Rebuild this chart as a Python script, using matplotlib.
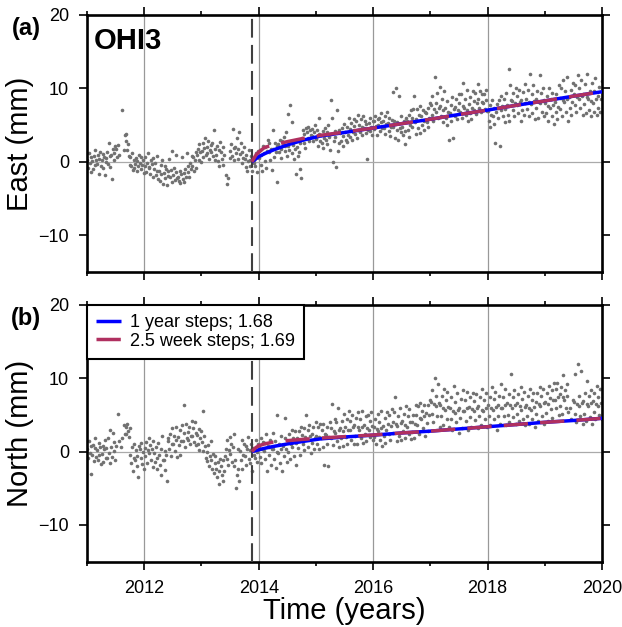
import numpy as np
import matplotlib
matplotlib.use('Agg')
import matplotlib.pyplot as plt
from matplotlib.ticker import MultipleLocator

plt.rcParams['font.family'] = ['Liberation Sans', 'DejaVu Sans']

nan = float('nan')

# Daily-ish positions, 6 samples per month (mm)
years = [2011, 2012, 2013, 2014, 2015, 2016, 2017, 2018, 2019]

east_2011 = [0.3, -0.8, 1.2, -0.2, 0.6, -1.4, 0.1, -1.0, 0.8, 1.6, -0.4, 0.2,
             -0.3, 0.9, -1.6, 0.4, 1.3, -0.6, 0.2, 1.1, -0.9, 0.6, -1.8, 0.0,
             0.5, 1.4, -0.3, 2.6, 0.8, -0.7, 0.9, -2.4, 1.7, 0.3, 1.2, 2.2,
             1.8, 0.6, 2.3, nan, 1.0, nan, nan, 7.0, nan, nan, 1.6, 3.6,
             3.8, 2.9, 1.6, 2.4, 0.8, -0.4, 0.6, -0.5, 1.2, -1.1, 0.2, -0.8,
             -0.3, 0.5, -1.3, 0.1, -0.6, 1.0, -0.2, 0.7, -1.0, -0.4, 0.3, -1.5]
east_2012 = [-0.5, 0.6, -1.4, -0.1, 1.2, -0.9, -0.7, -1.6, 0.2, -0.3, -2.1, 0.5,
             -1.0, -0.2, -1.8, 0.8, -1.3, -2.4, -1.2, -2.6, -0.4, -1.7, 0.3, -3.0,
             -1.5, -0.6, -2.2, -1.0, -3.2, -1.9, -1.3, 0.4, -2.0, -1.1, -2.7, 1.5,
             -1.8, -0.9, -2.5, -1.4, 0.9, -2.2, -2.0, -2.6, -1.2, -2.9, -1.7, 0.7,
             -2.3, -1.5, -2.8, -1.0, -2.0, 1.2, -1.4, -0.6, -2.1, -0.2, -1.0, 0.8,
             -0.5, 0.6, -1.2, 0.3, 1.3, -0.8, 1.0, 1.8, 0.3, 2.4, 1.3, 0.0]
east_2013 = [1.5, 2.5, 0.6, 1.9, 3.3, 1.0, 2.0, 1.2, 2.8, 0.4, 1.6, 2.3,
             1.4, 2.6, 0.8, 4.3, 1.8, 0.2, 1.0, 2.1, 0.1, 1.6, -0.6, 2.7,
             1.3, 0.4, 2.0, -0.4, 1.0, nan, -1.8, nan, -3.0, -2.2, nan, 0.5,
             1.5, 2.4, 0.8, 4.5, 1.9, 0.2, 2.0, 1.2, 3.2, 1.7, 0.4, 4.0,
             1.1, 2.5, -0.2, 1.4, 0.5, 2.0, 0.4, -0.7, 1.0, -1.3, 0.1, 1.6,
             0.2, -0.5, 0.8, -1.2, 0.3, -0.2, 0.3, -0.6, 1.2, -1.4, 0.6, 1.5]
east_2014 = [0.5, 1.6, -0.4, 1.0, -1.3, 2.2, 1.2, 0.1, 2.0, -0.8, 1.5, 3.0,
             1.4, 2.5, 0.3, 1.8, -1.1, 4.3, 1.8, 0.7, 2.6, 1.3, -2.7, 2.1,
             2.4, 1.3, 3.0, 1.8, 0.5, 2.9, 2.6, 3.4, 1.5, 2.1, 4.0, 0.8,
             2.2, 6.5, 1.6, 7.8, 2.8, 5.4, 1.2, 2.3, 0.4, 1.8, -1.6, 2.8,
             2.0, 0.8, 1.4, -1.0, 2.6, -2.2, 3.2, 4.3, 2.6, 3.8, 1.9, 4.6,
             4.0, 3.2, 4.8, 2.8, 4.4, 3.6, 3.5, 4.5, 2.9, 4.1, 5.0, 3.1]
east_2015 = [3.3, 4.3, 2.2, 3.8, 6.0, 2.8, 3.6, 2.6, 4.2, 1.9, 3.2, 4.6,
             3.0, 4.0, 2.4, 5.0, 3.4, 1.6, 3.8, 8.4, 6.0, 0.0, 2.8, 4.2,
             3.4, -0.7, 7.0, 1.5, 4.4, 2.6, 3.9, 2.9, 4.6, 2.2, 3.5, 5.1,
             4.1, 3.0, 4.8, 2.7, 3.6, 6.0, 4.5, 3.4, 5.3, 3.0, 4.0, 5.8,
             4.9, 3.8, 5.6, 3.3, 4.4, 6.4, 5.0, 4.0, 5.8, 3.6, 4.7, 6.2,
             4.6, 5.6, 3.9, 5.2, 0.4, 4.3, 5.3, 4.2, 6.0, 4.7, 3.6, 5.6]
east_2016 = [5.5, 4.5, 6.3, 4.9, 3.7, 5.8, 5.0, 6.0, 4.2, 5.4, 6.6, 4.6,
             5.6, 4.6, 6.2, 3.8, 5.2, 6.8, 5.3, 4.2, 6.0, 3.5, 4.8, 5.7,
             4.8, 9.5, 5.6, 3.2, 10.0, 4.4, 5.4, 3.0, 9.0, 4.6, 6.2, 4.0,
             4.8, 3.6, 5.6, 2.4, 4.2, 6.0, 5.6, 4.3, 6.4, 3.4, 5.0, 7.0,
             6.0, 4.8, 7.2, 9.0, 5.4, 3.8, 5.8, 7.2, 4.6, 6.4, 3.9, 7.6,
             6.2, 5.0, 7.0, 4.3, 5.6, 6.8, 6.6, 5.4, 7.4, 4.8, 6.0, 8.0]
east_2017 = [7.8, 6.4, 9.0, 5.6, 7.2, 11.5, 8.0, 6.8, 9.4, 6.0, 7.4, 10.2,
             7.6, 6.2, 8.6, 5.4, 7.0, 9.6, 7.3, 6.0, 8.3, 5.0, 6.8, 3.0,
             6.6, 7.8, 5.6, 8.8, 3.2, 7.2, 7.5, 6.3, 8.5, 5.8, 7.0, 9.2,
             8.0, 6.8, 9.3, 6.0, 7.6, 10.8, 7.4, 8.6, 6.4, 9.8, 7.0, 5.6,
             7.9, 6.7, 8.8, 5.8, 7.4, 9.6, 8.3, 7.0, 9.4, 6.5, 8.0, 10.6,
             8.6, 7.4, 9.6, 6.8, 8.2, 9.2, 8.0, 9.2, 7.2, 9.8, 8.4, 6.9]
east_2018 = [6.9, 5.6, 7.8, 4.8, 6.4, 8.4, 6.3, 7.4, 5.2, 2.5, 6.8, 7.9,
             7.3, 6.0, 8.4, 2.2, 7.0, 8.9, 7.6, 6.2, 8.6, 5.4, 7.2, 9.4,
             7.8, 6.4, 12.7, 5.6, 10.4, 8.4, 8.3, 7.0, 9.4, 6.2, 8.0, 10.0,
             7.7, 9.0, 6.6, 9.8, 8.2, 5.6, 8.4, 7.1, 9.5, 6.4, 8.0, 10.6,
             8.5, 7.2, 9.8, 6.3, 8.1, 12.0, 7.9, 9.2, 6.6, 10.4, 8.3, 5.8,
             8.6, 7.3, 9.6, 6.0, 8.2, 11.8, 8.0, 9.4, 6.8, 10.1, 8.4, 6.2]
east_2019 = [8.0, 6.6, 9.0, 5.6, 7.6, 10.0, 7.4, 8.6, 6.2, 9.4, 7.8, 5.2,
             8.1, 6.8, 9.2, 5.8, 7.5, 10.4, 8.7, 7.2, 10.0, 6.2, 8.4, 11.2,
             8.1, 9.6, 6.8, 11.6, 8.6, 5.6, 8.8, 7.4, 9.8, 6.4, 8.2, 10.8,
             9.2, 7.8, 10.4, 6.8, 8.8, 11.8, 8.6, 10.0, 7.4, 11.2, 9.0, 6.4,
             9.3, 7.9, 10.6, 6.6, 8.8, 12.0, 8.6, 7.0, 9.6, 6.2, 8.3, 10.8,
             8.0, 9.6, 6.8, 11.4, 8.6, 6.4, 8.9, 7.4, 10.2, 6.8, 8.6, 11.0]

north_2011 = [0.3, -0.9, 1.4, -0.2, 0.8, -3.0, -0.4, 0.9, -1.3, 0.5, 1.8, -0.7,
              0.2, -1.1, 1.2, -0.5, 0.7, -1.7, -0.3, 0.8, -1.4, 0.4, 1.6, -0.8,
              0.5, -0.9, 1.9, -0.2, 3.0, -1.5, 0.6, -0.7, 2.6, 0.1, 1.3, -1.2,
              0.8, nan, 5.1, nan, 1.4, nan, 0.6, nan, 1.8, nan, 3.6, 2.4,
              3.4, 2.4, 3.8, 2.8, 2.0, 3.2, -0.4, -1.6, 0.6, -2.6, -0.9, 1.0,
              -1.2, 0.2, -2.0, -0.6, -3.5, 0.8, 0.4, -0.9, 1.2, -1.7, 0.0, -2.4]
north_2012 = [0.5, -0.6, 1.3, -1.5, 0.2, 1.8, -0.2, 0.9, -1.2, 0.4, -2.1, 1.4,
              -0.2, -1.4, 0.6, -2.4, -0.8, 1.2, -0.5, -1.8, 0.3, -3.2, 2.2, -1.1,
              -1.2, 0.1, -2.5, -0.4, -4.0, 1.8, 1.5, 0.4, 2.4, -0.6, 1.1, 3.2,
              1.0, 2.2, 0.1, 3.4, 1.6, -0.7, 2.0, 0.9, 2.9, -0.5, 1.5, 3.6,
              1.4, 2.6, 6.3, 0.6, 3.8, 1.9, 2.7, 1.6, 3.4, 1.0, 2.2, 4.2,
              2.1, 3.2, 1.3, 4.0, 2.6, 0.9, 2.3, 1.0, 3.1, 0.2, 1.8, 2.8]
north_2013 = [1.3, 5.6, 0.1, 2.2, 0.8, -0.9, -0.1, -1.3, 0.9, -2.0, -0.6, 1.4,
              -1.2, -2.4, -0.3, -2.9, -1.6, -0.6, -2.3, -3.4, -1.4, -4.4, -2.6, -1.0,
              -2.0, -3.2, -1.2, -4.0, -2.7, -0.6, 0.4, -1.0, 1.6, -1.8, 0.2, 2.0,
              -0.3, 1.0, -1.4, 0.6, -2.0, 2.4, -1.2, -4.9, -3.2, 0.4, -2.4, -4.0,
              0.1, -1.2, 1.6, -2.3, -0.5, 1.0, -0.6, 0.8, -1.8, 0.3, 2.0, -1.0,
              0.2, -1.5, 1.0, -2.6, 0.5, -0.4, 0.4, -0.8, 1.6, -1.4, 0.0, 1.1]
north_2014 = [0.6, -0.7, 1.8, -1.6, 0.3, 1.3, 0.1, 1.2, -1.0, 2.4, -2.6, 0.8,
              0.7, -0.5, 1.6, -1.8, 0.4, 2.6, 0.4, -1.0, 1.4, -2.2, 5.0, 0.0,
              -0.2, 1.0, -1.6, 2.2, 0.3, -2.6, 0.8, -0.6, 1.8, 4.6, 0.4, -1.4,
              1.3, 0.0, 2.4, -1.0, 1.0, 3.0, 0.7, 1.9, -0.6, 2.8, 1.2, -1.8,
              1.8, 0.5, 2.8, -0.4, 1.6, 3.4, 2.3, 1.0, 3.2, 0.2, 2.0, 5.0,
              1.7, 2.9, 0.6, 3.6, 2.2, -0.2, 2.4, 1.2, 3.3, 0.4, 1.9, 4.0]
north_2015 = [2.2, 1.0, 3.4, 0.3, 2.0, 3.8, 1.8, 3.0, 0.6, 3.8, -1.8, 2.4,
              2.3, 1.1, 3.3, -2.0, 2.0, 4.0, 3.2, 1.8, 6.5, 0.9, 2.8, 4.4,
              2.6, 4.0, 1.4, 6.0, 3.0, 0.7, 3.2, 1.9, 4.2, 0.8, 2.8, 5.2,
              3.3, 2.0, 4.4, 1.0, 3.0, 5.6, 2.9, 4.2, 1.6, 5.0, 3.3, 1.0,
              3.6, 2.2, 4.6, 1.0, 3.3, 5.4, 3.0, 4.4, 1.9, 5.6, 3.4, 1.2,
              3.7, 2.4, 4.8, 1.4, 3.2, 5.0, 3.0, 4.2, 2.0, 5.4, 3.5, 1.6]
north_2016 = [3.4, 2.0, 4.5, 1.0, 3.1, 5.2, 2.8, 4.0, 1.6, 5.6, 3.2, 0.8,
              3.5, 2.2, 4.6, 1.2, 3.0, 5.4, 3.8, 2.4, 5.0, 1.6, 3.5, 5.8,
              4.1, 2.6, 5.4, 7.4, 3.8, 1.4, 3.5, 4.8, 2.2, 6.0, 3.9, 1.6,
              4.2, 2.8, 5.2, 1.8, 3.7, 6.2, 3.4, 4.8, 2.4, 5.8, 4.0, 1.7,
              4.1, 2.7, 5.0, 1.9, 3.8, 6.4, 5.0, 3.6, 6.2, 2.4, 4.6, 6.6,
              4.4, 5.6, 3.2, 6.4, 4.8, 2.2, 5.3, 3.9, 6.4, 2.8, 5.0, 7.0]
north_2017 = [6.8, 5.2, 8.4, 4.0, 6.5, 10.0, 6.2, 7.6, 4.8, 9.2, 6.6, 3.4,
              6.3, 4.8, 7.6, 3.6, 6.0, 8.6, 5.7, 7.0, 4.4, 8.2, 6.1, 3.3,
              6.0, 4.4, 7.4, 3.0, 5.6, 9.0, 5.3, 6.8, 4.0, 8.0, 5.7, 2.6,
              5.9, 4.6, 7.2, 3.2, 5.5, 8.4, 5.5, 7.0, 4.2, 8.2, 5.9, 3.0,
              6.1, 4.7, 7.4, 3.4, 5.8, 8.0, 5.5, 6.9, 4.3, 7.8, 6.0, 3.2,
              6.2, 4.8, 7.4, 3.6, 5.7, 8.6, 5.6, 7.0, 4.4, 8.0, 6.0, 3.4]
north_2018 = [6.3, 4.8, 7.5, 3.6, 6.0, 8.8, 5.7, 7.2, 4.4, 8.2, 6.1, 3.0,
              6.3, 4.9, 7.6, 3.8, 6.0, 9.2, 6.0, 7.4, 4.8, 8.6, 6.4, 3.6,
              6.6, 5.0, 7.8, 4.0, 6.3, 10.6, 6.0, 7.5, 4.7, 8.4, 6.4, 3.8,
              6.7, 5.1, 7.8, 4.2, 6.2, 8.8, 5.7, 7.2, 4.5, 8.2, 6.1, 3.6,
              6.4, 4.8, 7.6, 3.8, 6.0, 8.6, 5.7, 7.0, 4.4, 8.0, 6.1, 3.4,
              6.8, 5.2, 8.0, 4.2, 6.5, 8.8, 6.2, 7.6, 4.8, 8.6, 6.6, 3.8]
north_2019 = [6.8, 5.3, 8.0, 4.2, 6.5, 9.0, 7.3, 5.8, 8.4, 4.6, 7.0, 9.4,
              7.1, 8.6, 6.0, 9.4, 7.5, 5.0, 7.8, 6.2, 8.8, 5.2, 7.4, 10.4,
              7.0, 8.4, 6.0, 9.2, 7.6, 5.4, nan, 6.0, nan, 4.5, nan, 7.0,
              6.8, 5.2, 10.6, 4.0, 6.5, 12.0, 6.2, 7.6, 4.8, 11.0, 6.6, 3.8,
              6.9, 5.2, 8.0, 4.2, 6.5, 9.6, 6.2, 7.6, 4.7, 8.4, 6.6, 3.8,
              6.9, 5.4, 8.0, 4.4, 6.5, 9.0, 6.2, 7.4, 5.0, 8.6, 6.6, 4.4]

east_obs = [east_2011, east_2012, east_2013, east_2014, east_2015,
            east_2016, east_2017, east_2018, east_2019]
north_obs = [north_2011, north_2012, north_2013, north_2014, north_2015,
             north_2016, north_2017, north_2018, north_2019]

# Postseismic model curves (mm)
fit_t = [2013.88, 2013.95, 2014.0, 2014.1, 2014.25, 2014.5, 2014.78, 2015.07,
         2015.5, 2016.0, 2016.5, 2017.0, 2017.5, 2018.0, 2018.5, 2019.0,
         2019.5, 2020.0]
east_1yr = [0.0, 0.4, 0.7, 1.1, 1.6, 2.3, 2.96, 3.5, 4.0, 4.6, 5.2, 5.8,
            6.45, 7.05, 7.7, 8.3, 8.95, 9.55]
east_25wk = [0.0, 0.9, 1.3, 1.95, 2.3, 2.75, 3.2, 3.6, 4.05, 4.6, 5.2, 5.8,
             6.45, 7.05, 7.7, 8.3, 8.95, 9.55]
north_1yr = [0.0, 0.15, 0.25, 0.45, 0.7, 1.05, 1.4, 1.73, 2.0, 2.25, 2.55,
             2.8, 3.1, 3.4, 3.7, 4.0, 4.25, 4.55]
north_25wk = [0.0, 0.55, 0.8, 1.05, 1.3, 1.5, 1.68, 1.85, 2.05, 2.27, 2.55,
              2.8, 3.1, 3.4, 3.7, 4.0, 4.25, 4.55]

quake = 2013.88
labels = ['1 year steps; 1.68', '2.5 week steps; 1.69']


def ObsTimes(year, n):
    """Spread n samples evenly through one year."""
    return year + (np.arange(n) + 0.5) / n


def PlotPanel(ax, obs, fit1, fit2, ylabel):
    for y, vals in zip(years, obs):
        ax.plot(ObsTimes(y, len(vals)), vals, 'o', ms=2.6, color='#717171',
                mec='none', zorder=2)

    ax.axvline(quake, color='#404040', lw=1.5, dashes=(9, 3.5), zorder=3)
    ax.axhline(0, color='#aaaaaa', lw=0.9, zorder=1)

    l1, = ax.plot(fit_t, fit1, color='#0000ff', lw=2.5, zorder=4,
                  solid_capstyle='butt')
    l2, = ax.plot(fit_t, fit2, color='#b03060', lw=2.5, zorder=5,
                  dashes=(7, 3.5))

    ax.set_xlim(2011, 2020)
    ax.set_ylim(-15, 20)
    ax.set_xticks([2012, 2014, 2016, 2018, 2020])
    ax.xaxis.set_minor_locator(MultipleLocator(1))
    ax.set_yticks([-10, 0, 10, 20])
    ax.grid(True, which='major', axis='x', color='#999999', lw=0.9)
    ax.set_axisbelow(True)
    ax.tick_params(which='both', direction='out', top=True, right=True,
                   labelsize=13, width=1.2, pad=7)
    ax.tick_params(which='major', length=6)
    ax.tick_params(which='minor', length=3)
    for s in ax.spines.values():
        s.set_linewidth(1.9)
    ax.set_ylabel(ylabel, fontsize=21)
    ax.yaxis.set_label_coords(-0.103, 0.5)
    return l1, l2


fig = plt.figure(figsize=(6.22, 6.27), dpi=100)
ax_a = fig.add_axes([0.1399, 0.5662, 0.828, 0.4099])
ax_b = fig.add_axes([0.1399, 0.1042, 0.828, 0.4094])

PlotPanel(ax_a, east_obs, east_1yr, east_25wk, 'East (mm)')
ax_a.tick_params(labelbottom=False)
ax_a.text(0.014, 0.955, 'OHI3', transform=ax_a.transAxes, fontsize=21,
          fontweight='bold', ha='left', va='top')

h1, h2 = PlotPanel(ax_b, north_obs, north_1yr, north_25wk, 'North (mm)')
ax_b.set_xlabel('Time (years)', fontsize=21)
ax_b.xaxis.set_label_coords(0.5, -0.137)

leg = ax_b.legend([h1, h2], labels, loc='upper left', bbox_to_anchor=(0, 1),
                  borderaxespad=0, fontsize=13, fancybox=False,
                  edgecolor='black', framealpha=1, borderpad=0.5,
                  labelspacing=0.1, handlelength=1.4, handletextpad=0.5)
leg.get_frame().set_linewidth(1.5)
leg.set_zorder(10)

fig.text(26 / 622, 1 - 28 / 627, '(a)', fontsize=17, fontweight='bold',
         ha='center', va='center')
fig.text(26 / 622, 1 - 318 / 627, '(b)', fontsize=17, fontweight='bold',
         ha='center', va='center')

fig.savefig('out.png', dpi=100)
